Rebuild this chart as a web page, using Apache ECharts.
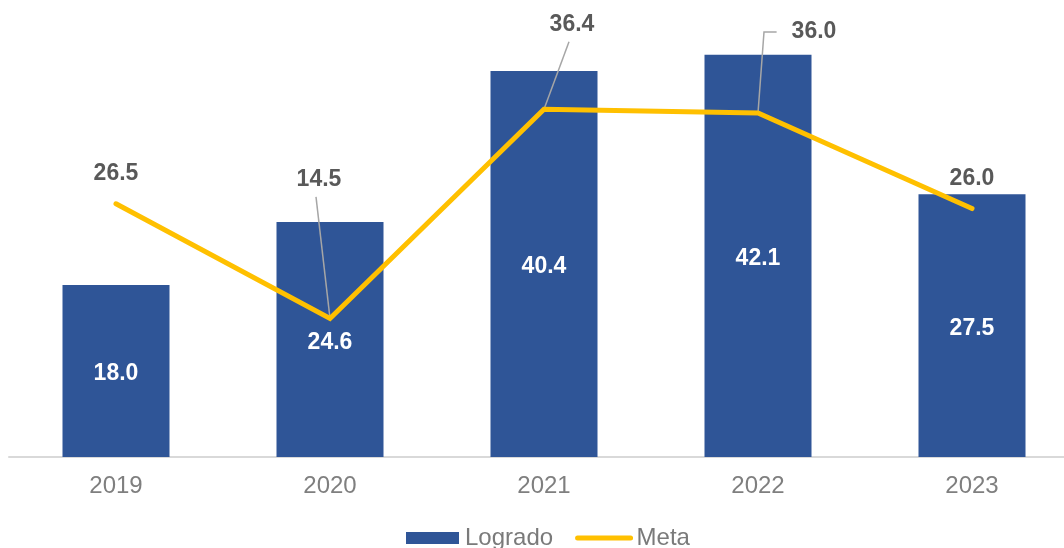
<!DOCTYPE html>
<html>
<head>
<meta charset="utf-8">
<script src="https://cdn.jsdelivr.net/npm/echarts@6/dist/echarts.min.js"></script>
<style>
  html, body { margin: 0; padding: 0; background: #ffffff; }
  #chart { width: 1064px; height: 548px; }
</style>
</head>
<body>
<div id="chart"></div>
<script>
// Years on the category axis
const years = ['2019', '2020', '2021', '2022', '2023'];
// Achieved values (bars)
const logrado = [18.0, 24.6, 40.4, 42.1, 27.5];
// Target values (line)
const meta = [26.5, 14.5, 36.4, 36.0, 26.0];

// Label nudges for the target line, so crowded labels sit clear of the bars.
// guide: 'none' | 'straight' (point to label bottom) | 'elbow' (up, then across to label)
const metaLabelShift = [
  { dx: 0, dy: 0, guide: 'none' },
  { dx: -11, dy: -109, guide: 'straight' },
  { dx: 28, dy: -55, guide: 'straight' },
  { dx: 56, dy: -51, guide: 'elbow' },
  { dx: 0, dy: 0, guide: 'none' }
];

const chart = echarts.init(document.getElementById('chart'));

// Leader-line geometry collected while labels are laid out
const guidePoints = {};

function metaLabelLayout(params) {
  const s = metaLabelShift[params.dataIndex];
  const out = { dx: s.dx, dy: s.dy };
  if (s.guide === 'none') return out;
  const px = params.rect.x + params.rect.width / 2;
  const py = params.rect.y + params.rect.height / 2;
  const lr = params.labelRect;
  const left = lr.x + s.dx;
  const top = lr.y + s.dy;
  const cx = left + lr.width / 2;
  const cy = top + lr.height / 2;
  if (s.guide === 'straight') {
    guidePoints[params.dataIndex] = [[px, py], [cx - 3, top + lr.height + 6]];
  } else {
    guidePoints[params.dataIndex] = [[px, py], [px + 6, cy], [left - 15, cy]];
  }
  return out;
}

const option = {
  animation: false,
  textStyle: { fontFamily: 'Liberation Sans, Arial, sans-serif' },
  grid: { left: 9, top: 27, width: 1070, height: 430, outerBoundsMode: 'none', containLabel: false },
  legend: {
    bottom: -7,
    left: 401,
    itemWidth: 53,
    itemHeight: 12,
    itemGap: 22,
    textStyle: { fontSize: 24, color: '#7a7a7a', padding: [0, 0, 0, 1] },
    data: [
      { name: 'Logrado', icon: 'rect' },
      { name: 'Meta', itemStyle: { opacity: 0 }, lineStyle: { width: 5, cap: 'round' } }
    ]
  },
  xAxis: {
    type: 'category',
    data: years,
    axisLine: { lineStyle: { color: '#d9d9d9', width: 2 } },
    axisTick: { show: false },
    axisLabel: { fontSize: 24, color: '#7f7f7f', margin: 17 }
  },
  yAxis: {
    type: 'value',
    min: 0,
    max: 45,
    show: false,
    splitLine: { show: false }
  },
  series: [
    {
      name: 'Logrado',
      type: 'bar',
      data: logrado,
      barWidth: '50%',
      itemStyle: { color: '#2f5597' },
      label: {
        show: true,
        position: 'inside',
        offset: [0, 3],
        color: '#ffffff',
        fontWeight: 'bold',
        fontSize: 23,
        formatter: p => p.value.toFixed(1)
      }
    },
    {
      name: 'Meta',
      type: 'line',
      data: meta,
      symbol: 'circle',
      symbolSize: 1,
      showSymbol: true,
      lineStyle: { color: '#ffc000', width: 5, cap: 'round', join: 'miter' },
      itemStyle: { color: '#ffc000' },
      label: {
        show: true,
        position: 'top',
        distance: 18,
        color: '#595959',
        fontWeight: 'bold',
        fontSize: 23,
        formatter: p => p.value.toFixed(1)
      },
      labelLayout: metaLabelLayout,
      z: 6
    }
  ]
};

chart.setOption(option);

// Leader lines from each target point to its moved label, above the bars, under the line
chart.setOption({
  graphic: Object.keys(guidePoints).map(k => ({
    type: 'polyline',
    z: 4,
    silent: true,
    shape: { points: guidePoints[k] },
    style: { stroke: '#a6a6a6', lineWidth: 1.5, fill: null }
  }))
});
</script>
</body>
</html>
